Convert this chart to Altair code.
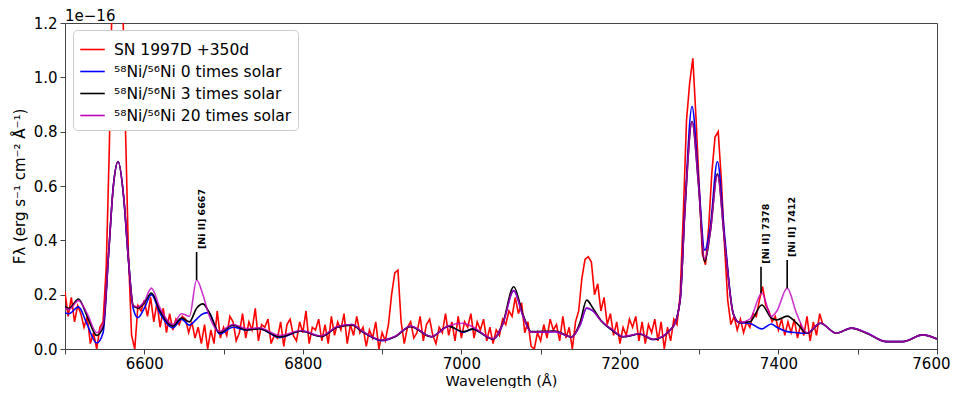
import altair as alt
import pandas as pd

# ---------------- data (flux in units of 1e-16) ----------------
red_start = 6496
red_step = 4
red_flux = [
    0.15, 0.21, 0.12, 0.19, 0.10, 0.16, 0.13, 0.08, 0.12, 0.02, 0.06, 0.00, 0.08, 0.10,
    0.30, 0.75, 1.40, 1.60, 1.60, 1.40, 0.85, 0.35, 0.05, 0.00,
    0.16, 0.14, 0.18, 0.12, 0.19, 0.10, 0.17, 0.08, 0.15, 0.06, 0.13, 0.07, 0.11, 0.09,
    0.12, 0.11, 0.06, 0.10, 0.04, 0.08, 0.02, 0.09, 0.00, 0.07, 0.02, 0.14, 0.04, 0.08,
    0.05, 0.12, 0.10, 0.03, 0.06, 0.13, 0.04, 0.10, 0.07, 0.15, 0.03, 0.09, 0.08, 0.11,
    0.02, 0.05, 0.04, 0.10, 0.01, 0.09, 0.11, 0.05, 0.03, 0.10, 0.06, 0.14, 0.02, 0.08,
    0.07, 0.11, 0.03, 0.09, 0.02, 0.12, 0.05, 0.10, 0.07, 0.13, 0.02, 0.09, 0.05, 0.12,
    0.06, 0.08, 0.01, 0.07, 0.04, 0.10, 0.00, 0.06, 0.03, 0.09, 0.20, 0.28, 0.29, 0.10,
    0.02, 0.08, 0.10, 0.04, 0.06, 0.12, 0.03, 0.09, 0.11, 0.05, 0.02, 0.08, 0.06, 0.13,
    0.05, 0.10, 0.03, 0.12, 0.04, 0.10, 0.08, 0.13, 0.04, 0.10, 0.07, 0.11, 0.03, 0.08,
    0.02, 0.07, 0.05, 0.11, 0.09, 0.14, 0.12, 0.19, 0.13, 0.17, 0.06, 0.10, 0.01, 0.00,
    0.06, 0.03, 0.09, 0.04, 0.11, 0.07, 0.09, 0.03, 0.12, 0.04, 0.08, 0.00, 0.10, 0.14,
    0.26, 0.33, 0.34, 0.32, 0.20, 0.24, 0.14, 0.19, 0.09, 0.13, 0.05, 0.10, 0.02, 0.08,
    0.05, 0.11, 0.08, 0.12, 0.03, 0.10, 0.02, 0.09, 0.06, 0.11, 0.03, 0.10, 0.00, 0.08,
    0.03, 0.11, 0.09, 0.20, 0.50, 0.84, 0.98, 1.07, 0.85, 0.60, 0.35, 0.31, 0.45, 0.65,
    0.78, 0.80, 0.62, 0.38, 0.18, 0.09, 0.12, 0.07, 0.11, 0.06, 0.10, 0.08, 0.13, 0.12,
    0.18, 0.23, 0.16, 0.14, 0.10, 0.12, 0.07, 0.11, 0.05, 0.10, 0.06, 0.11, 0.04, 0.09,
    0.05, 0.12, 0.03, 0.10, 0.05, 0.13, 0.09,
]

model_wl = [
    6495, 6505, 6517, 6528, 6540, 6548, 6555, 6561, 6567, 6574, 6580, 6586, 6592, 6600,
    6609, 6620, 6636, 6647, 6657, 6666, 6674, 6681, 6695, 6712, 6729, 6745, 6771, 6798,
    6823, 6843, 6862, 6875, 6900, 6916, 6936, 6962, 6984, 7002, 7014, 7040, 7052, 7066,
    7078, 7088, 7118, 7139, 7150, 7158, 7166, 7176, 7190, 7204, 7225, 7242, 7267, 7276,
    7282, 7291, 7299, 7307, 7314, 7323, 7332, 7343, 7351, 7364, 7379, 7391, 7398, 7411,
    7423, 7436, 7453, 7473, 7492, 7511, 7536, 7557, 7582, 7600,
]
model_0x = [
    0.140, 0.130, 0.155, 0.090, 0.022, 0.060, 0.350, 0.600, 0.690, 0.560, 0.330, 0.150, 0.115, 0.150,
    0.200, 0.130, 0.078, 0.110, 0.088, 0.110, 0.130, 0.134, 0.055, 0.080, 0.070, 0.075, 0.042, 0.066,
    0.046, 0.080, 0.090, 0.064, 0.031, 0.045, 0.084, 0.045, 0.084, 0.062, 0.073, 0.037, 0.090, 0.215,
    0.120, 0.062, 0.064, 0.044, 0.090, 0.150, 0.140, 0.105, 0.070, 0.045, 0.055, 0.035, 0.082, 0.180,
    0.520, 0.892, 0.630, 0.364, 0.450, 0.690, 0.420, 0.130, 0.097, 0.094, 0.074, 0.092, 0.080, 0.064,
    0.060, 0.058, 0.095, 0.058, 0.077, 0.060, 0.027, 0.027, 0.052, 0.037,
]
model_3x = [
    0.165, 0.150, 0.184, 0.120, 0.050, 0.080, 0.350, 0.600, 0.690, 0.560, 0.330, 0.160, 0.150, 0.170,
    0.206, 0.140, 0.085, 0.114, 0.100, 0.150, 0.166, 0.140, 0.060, 0.088, 0.070, 0.075, 0.045, 0.066,
    0.046, 0.080, 0.088, 0.064, 0.033, 0.045, 0.082, 0.045, 0.084, 0.064, 0.073, 0.037, 0.092, 0.229,
    0.125, 0.064, 0.066, 0.044, 0.100, 0.180, 0.150, 0.105, 0.070, 0.045, 0.055, 0.035, 0.082, 0.180,
    0.510, 0.837, 0.610, 0.321, 0.430, 0.645, 0.400, 0.130, 0.097, 0.100, 0.162, 0.114, 0.107, 0.121,
    0.095, 0.058, 0.095, 0.058, 0.077, 0.058, 0.027, 0.027, 0.052, 0.037,
]
model_20x = [
    0.160, 0.145, 0.178, 0.130, 0.060, 0.090, 0.350, 0.600, 0.690, 0.560, 0.330, 0.160, 0.155, 0.175,
    0.224, 0.150, 0.090, 0.130, 0.120, 0.254, 0.200, 0.130, 0.065, 0.090, 0.075, 0.078, 0.050, 0.068,
    0.048, 0.082, 0.090, 0.066, 0.033, 0.046, 0.084, 0.046, 0.086, 0.095, 0.082, 0.038, 0.090, 0.215,
    0.120, 0.062, 0.064, 0.044, 0.090, 0.152, 0.140, 0.105, 0.072, 0.046, 0.056, 0.036, 0.082, 0.180,
    0.510, 0.835, 0.610, 0.330, 0.430, 0.640, 0.400, 0.130, 0.097, 0.110, 0.206, 0.120, 0.140, 0.224,
    0.130, 0.060, 0.095, 0.058, 0.077, 0.060, 0.027, 0.027, 0.052, 0.037,
]

ann_wl = [6666, 7378, 7411]
ann_base = [0.254, 0.206, 0.224]
ann_top = [0.357, 0.303, 0.328]
ann_text = ["[Ni II] 6667", "[Ni II] 7378", "[Ni II] 7412"]

x_ticks = [6500, 6600, 6700, 6800, 6900, 7000, 7100, 7200, 7300, 7400, 7500, 7600]
y_ticks = [0.0, 0.2, 0.4, 0.6, 0.8, 1.0, 1.2]
offset_text = ["1e−16"]

series_names = [
    "SN 1997D +350d",
    "\u2075\u2078Ni/\u2075\u2076Ni 0 times solar",
    "\u2075\u2078Ni/\u2075\u2076Ni 3 times solar",
    "\u2075\u2078Ni/\u2075\u2076Ni 20 times solar",
]
series_colors = ["#ff0000", "#0000ff", "#000000", "#bf00bf"]

# ---------------- tables ----------------
obs = pd.DataFrame({
    "wl": [red_start + red_step * i for i in range(len(red_flux))],
    "flux": red_flux,
    "series": series_names[0],
})
m0 = pd.DataFrame({"wl": model_wl, "flux": model_0x, "series": series_names[1]})
m3 = pd.DataFrame({"wl": model_wl, "flux": model_3x, "series": series_names[2]})
m20 = pd.DataFrame({"wl": model_wl, "flux": model_20x, "series": series_names[3]})
ann = pd.DataFrame({"wl": ann_wl, "y0": ann_base, "y1": ann_top, "label": ann_text})
off = pd.DataFrame({"t": offset_text})

FONT = "DejaVu Sans"

x_enc = alt.X(
    "wl:Q",
    scale=alt.Scale(domain=[6500, 7600], nice=False, zero=False),
    axis=alt.Axis(
        title="Wavelength (Å)",
        values=x_ticks,
        labelExpr="datum.value % 200 == 0 ? format(datum.value, 'd') : ''",
        labelFlush=True,
        labelFlushOffset=13,
        labelPadding=2,
        titleBaseline="alphabetic",
        titleY=36,
        titleFontSize=14.5,
    ),
)
y_enc = alt.Y(
    "flux:Q",
    scale=alt.Scale(domain=[0, 1.2], nice=False, zero=False),
    axis=alt.Axis(
        title="Fλ (erg s⁻¹ cm⁻² Å⁻¹)",
        values=y_ticks,
        format=".1f",
        labelFlush=False,
        labelPadding=3,
        titlePadding=6,
    ),
)
color_enc = alt.Color(
    "series:N",
    scale=alt.Scale(domain=series_names, range=series_colors),
    legend=alt.Legend(
        orient="none",
        legendX=8,
        legendY=7,
        title=None,
        symbolType="stroke",
        symbolSize=600,
        symbolStrokeWidth=1.6,
        labelFontSize=15.5,
        labelFont=FONT,
        labelColor="black",
        labelLimit=400,
        labelOffset=8,
        fillColor="white",
        strokeColor="#cccccc",
        cornerRadius=4,
        padding=6,
        rowPadding=0,
    ),
)


def line_layer(df, opacity=1.0, interp="linear"):
    return alt.Chart(df).mark_line(
        clip=True, strokeWidth=1.6, opacity=opacity, interpolate=interp
    ).encode(x=x_enc, y=y_enc, color=color_enc, order=alt.Order("wl:Q"))


red = line_layer(obs)
blue = line_layer(m0, interp="monotone")
black = line_layer(m3, interp="monotone")
mag = line_layer(m20, opacity=0.8, interp="monotone")

rules = alt.Chart(ann).mark_rule(color="black", strokeWidth=1.6).encode(
    x="wl:Q", y="y0:Q", y2="y1:Q"
)
labels = alt.Chart(ann).mark_text(
    angle=270, align="left", baseline="middle", dx=3, dy=5,
    font=FONT, fontSize=9.5, fontWeight="bold", color="black",
).encode(x="wl:Q", y="y1:Q", text="label:N")

offset_label = alt.Chart(off).mark_text(
    align="left", baseline="alphabetic", font=FONT, fontSize=15, color="black"
).encode(x=alt.value(0), y=alt.value(-2), text="t:N")

chart = alt.layer(red, blue, black, mag, rules, labels, offset_label).properties(
    width=872,
    height=326,
    autosize=alt.AutoSizeParams(type="none"),
    padding={"left": 57, "top": 15, "right": 14, "bottom": 39},
).configure_view(
    stroke="#444444", strokeWidth=1
).configure_axis(
    grid=False,
    domainColor="#444444",
    tickColor="#444444",
    tickSize=5,
    labelFont=FONT,
    labelFontSize=15,
    labelColor="black",
    titleFont=FONT,
    titleFontSize=15,
    titleFontWeight="normal",
    titleColor="black",
)

chart.save("out.html", embed_options={"renderer": "svg", "actions": False})
